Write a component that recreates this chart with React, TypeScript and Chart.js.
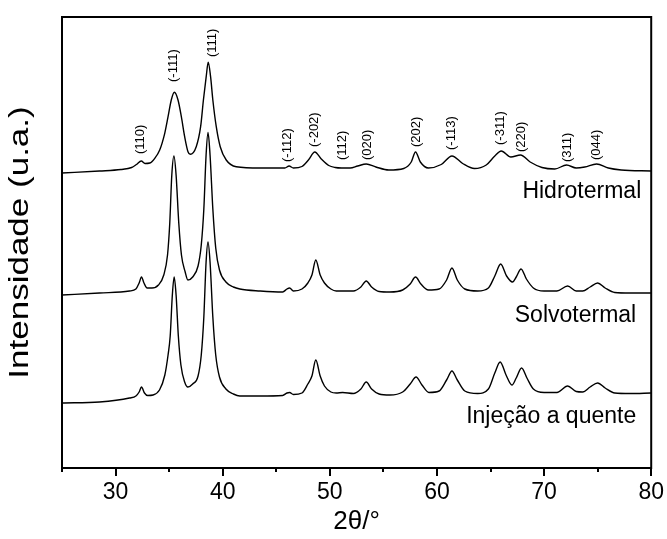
import React, { useEffect, useRef } from 'react';
import { Chart, registerables } from 'chart.js';

Chart.register(...registerables);

// 2θ (degrees) and intensity (arbitrary units, offset-stacked)
const hidroTheta = [25.0, 28.5, 30.5, 31.5, 31.95, 32.4, 32.75, 33.2, 33.66, 34.12, 34.59, 34.9, 35.2, 35.49, 35.83, 36.14, 36.45, 36.76, 36.97, 37.53, 37.94, 38.2, 38.46, 38.65, 38.87, 39.08, 39.4, 39.77, 40.33, 41.26, 43.5, 45.8, 46.2, 46.6, 47.4, 48.0, 48.6, 49.2, 49.9, 50.5, 51.1, 51.9, 52.6, 53.4, 54.3, 55.5, 56.9, 57.6, 58.0, 58.45, 59.2, 60.4, 61.4, 62.4, 63.5, 64.6, 65.4, 66.0, 66.9, 67.8, 68.7, 69.8, 71.0, 72.1, 73.0, 73.8, 74.9, 76.0, 77.2, 80.0];
const hidroInt = [295, 297, 298.5, 300.5, 303.5, 307, 304.5, 305, 309.7, 318, 334.7, 351.3, 368, 375.7, 368, 351.3, 331.3, 316.3, 313.7, 321.3, 341.3, 368, 391.3, 405.7, 391.3, 368, 341.3, 321.3, 308, 301.3, 300, 300, 302, 300, 301.5, 308, 316, 309, 302.5, 300.5, 300, 300, 302, 304, 301, 298, 299.5, 306, 316, 306, 300, 303.5, 312, 304.5, 299.5, 303, 312, 317, 311, 313, 306, 300.5, 299, 303, 300, 301, 304, 300, 298, 297];

const solvoTheta = [25.0, 28.5, 31.3, 31.9, 32.2, 32.42, 32.65, 32.95, 33.4, 34.0, 34.5, 34.85, 35.06, 35.25, 35.45, 35.65, 35.9, 36.15, 36.5, 36.75, 37.2, 37.7, 38.0, 38.24, 38.45, 38.63, 38.82, 39.08, 39.35, 39.7, 40.3, 41.0, 41.6, 43.5, 45.6, 46.0, 46.25, 46.6, 47.4, 47.95, 48.33, 48.69, 49.1, 49.5, 50.1, 50.6, 51.2, 52.2, 52.9, 53.4, 53.9, 54.6, 55.6, 56.8, 57.5, 58.0, 58.5, 59.2, 60.2, 60.9, 61.4, 61.9, 62.6, 63.8, 64.8, 65.4, 65.95, 66.5, 67.05, 67.4, 67.85, 68.35, 69.0, 70.0, 71.2, 72.2, 73.0, 73.6, 74.3, 75.0, 75.7, 76.6, 78.0, 80.0];
const solvoInt = [173, 175, 177, 179, 185, 191, 185, 180, 180, 183, 193, 213, 245, 293, 312, 293, 245, 213, 196, 188, 191, 202, 223, 259, 313, 335.5, 313, 259, 220, 198, 186, 181, 179, 177, 176, 179, 180, 177, 179, 185, 193, 208, 193, 185, 179, 177, 177, 177, 181, 187, 181, 176.5, 176, 178, 184, 191, 184, 178, 179, 188, 200, 188, 179, 177, 180, 192, 204, 192, 186, 191, 199, 189, 180, 177, 177, 182, 177, 177, 181, 185, 180, 175.5, 175, 175];

const injTheta = [25.0, 28.5, 31.3, 31.9, 32.2, 32.42, 32.7, 33.0, 33.5, 34.1, 34.6, 34.9, 35.1, 35.3, 35.47, 35.65, 35.86, 36.1, 36.45, 36.75, 37.2, 37.7, 38.0, 38.24, 38.45, 38.63, 38.82, 39.08, 39.35, 39.7, 40.3, 41.0, 41.6, 43.5, 45.6, 46.0, 46.25, 46.6, 47.4, 47.95, 48.33, 48.69, 49.1, 49.5, 50.1, 50.6, 51.2, 52.2, 52.9, 53.4, 53.9, 54.6, 55.6, 56.8, 57.5, 58.05, 58.6, 59.25, 60.2, 60.9, 61.4, 61.9, 62.6, 63.8, 64.8, 65.4, 65.9, 66.45, 67.0, 67.4, 67.9, 68.4, 69.0, 70.0, 71.2, 72.2, 73.0, 73.6, 74.3, 75.0, 75.7, 76.6, 78.0, 80.0];
const injInt = [65, 66, 70, 72, 76, 81, 75, 72.5, 73, 78, 93, 113, 132, 173, 191, 173, 132, 103, 86, 81, 84, 92, 113, 151, 206, 226, 206, 151, 113, 91, 79, 74, 72, 72, 72.5, 75, 75.5, 73.5, 75, 84, 92, 108, 92, 82, 76, 75, 75.5, 74.5, 79, 86, 79, 74, 73, 76, 84, 91, 83, 75.5, 77, 88, 97, 88, 77, 74.5, 79, 95, 106, 93, 83, 90, 100, 90, 79, 75.5, 75.5, 82, 76.5, 76, 81, 85, 80, 75, 74.5, 75];

// Miller index annotations (label, 2θ, intensity at text start)
const hklLabels = ['(110)', '(-111)', '(111)', '(-112)', '(-202)', '(112)', '(020)', '(202)', '(-113)', '(-311)', '(220)', '(311)', '(044)'];
const hklTheta = [32.35, 35.42, 39.0, 46.03, 48.55, 51.15, 53.48, 58.04, 61.39, 65.95, 67.9, 72.18, 74.88];
const hklPos = [314, 386, 411, 306, 321, 308, 308, 321, 318, 323, 316, 306, 308];

// Sample names (right-aligned end in 2θ, baseline intensity)
const sampleNames = ['Hidrotermal', 'Solvotermal', 'Injeção a quente'];
const sampleTheta = [79.07, 78.6, 78.6];
const samplePos = [270, 146, 45];

const xMajorTicks = [30, 40, 50, 60, 70, 80];
const xMinorTicks = [25, 35, 45, 55, 65, 75];
const yTitle = 'Intensidade (u.a.)';

const FONT = "'Liberation Sans', Arial, Helvetica, sans-serif";

function toPoints(xs: number[], ys: number[]) {
  return xs.map((x, i) => ({ x, y: ys[i] }));
}

const annotPlugin = {
  id: 'annot',
  afterDatasetsDraw(chart: any) {
    const { ctx, chartArea, scales } = chart;
    const xs = scales.x;
    const ys = scales.y;
    ctx.save();
    ctx.fillStyle = '#000';
    ctx.font = `13px ${FONT}`;
    ctx.textAlign = 'left';
    ctx.textBaseline = 'middle';
    hklLabels.forEach((t, i) => {
      const px = xs.getPixelForValue(hklTheta[i]);
      const py = ys.getPixelForValue(hklPos[i]);
      ctx.save();
      ctx.translate(px, py);
      ctx.rotate(-Math.PI / 2);
      ctx.fillText(t, 0, 0);
      ctx.restore();
    });
    ctx.font = `23px ${FONT}`;
    ctx.textAlign = 'right';
    ctx.textBaseline = 'alphabetic';
    sampleNames.forEach((t, i) => {
      ctx.fillText(t, xs.getPixelForValue(sampleTheta[i]), ys.getPixelForValue(samplePos[i]));
    });
    // y axis title (slightly condensed, as in the original figure)
    ctx.save();
    ctx.font = `35px ${FONT}`;
    ctx.textAlign = 'center';
    ctx.textBaseline = 'middle';
    ctx.translate(ys.left + 20, (chartArea.top + chartArea.bottom) / 2);
    ctx.scale(0.78, 1);
    ctx.rotate(-Math.PI / 2);
    ctx.fillText(yTitle, 0, 0);
    ctx.restore();
    // minor ticks
    ctx.strokeStyle = '#000';
    ctx.lineWidth = 2;
    ctx.beginPath();
    xMinorTicks.forEach((v) => {
      const px = Math.round(xs.getPixelForValue(v));
      ctx.moveTo(px, chartArea.bottom);
      ctx.lineTo(px, chartArea.bottom + 4);
    });
    ctx.stroke();
    // frame
    ctx.lineWidth = 2;
    ctx.strokeRect(chartArea.left, chartArea.top, chartArea.right - chartArea.left, chartArea.bottom - chartArea.top);
    ctx.restore();
  },
};

export default function App() {
  const ref = useRef<HTMLCanvasElement | null>(null);
  useEffect(() => {
    if (!ref.current) return;
    const chart = new Chart(ref.current, {
      type: 'line',
      data: {
        datasets: [
          { label: 'Hidrotermal', data: toPoints(hidroTheta, hidroInt) },
          { label: 'Solvotermal', data: toPoints(solvoTheta, solvoInt) },
          { label: 'Injeção a quente', data: toPoints(injTheta, injInt) },
        ].map((d) => ({
          ...d,
          borderColor: '#000',
          borderWidth: 1.4,
          pointRadius: 0,
          fill: false,
          cubicInterpolationMode: 'monotone' as const,
        })),
      },
      options: {
        animation: false,
        responsive: true,
        maintainAspectRatio: false,
        layout: { padding: { top: 17, right: 14, left: 0, bottom: 0 } },
        plugins: { legend: { display: false }, tooltip: { enabled: false } },
        scales: {
          x: {
            type: 'linear',
            min: 25,
            max: 80,
            afterBuildTicks: (scale: any) => {
              scale.ticks = xMajorTicks.map((v) => ({ value: v }));
            },
            afterFit: (scale: any) => {
              scale.height = 71;
            },
            grid: { display: true, drawOnChartArea: false, color: '#000', lineWidth: 2, tickLength: 8 },
            border: { display: false },
            ticks: { color: '#000', font: { family: FONT, size: 23 }, padding: 3, maxRotation: 0, autoSkip: false },
            title: { display: true, text: '2θ/°', color: '#000', font: { family: FONT, size: 26, lineHeight: 1.2 }, padding: { top: 0, bottom: 2 } },
          },
          y: {
            type: 'linear',
            min: 0,
            max: 451,
            afterFit: (scale: any) => {
              scale.width = 62;
            },
            grid: { display: false },
            border: { display: false },
            ticks: { display: false },
            title: { display: false },
          },
        },
      },
      plugins: [annotPlugin],
    });
    return () => chart.destroy();
  }, []);
  return (
    <div style={{ position: 'fixed', left: 0, top: 0, width: 667, height: 539, background: '#fff' }}>
      <canvas ref={ref} />
    </div>
  );
}
